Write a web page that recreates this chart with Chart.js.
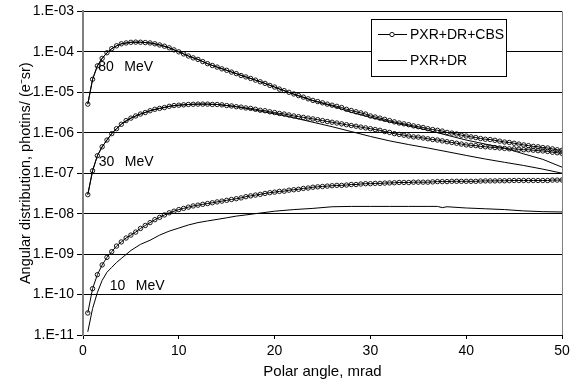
<!DOCTYPE html>
<html>
<head>
<meta charset="utf-8">
<script src="https://cdn.jsdelivr.net/npm/chart.js@4.4.1/dist/chart.umd.min.js"></script>
<style>
  html, body { margin: 0; padding: 0; background: #ffffff; }
  #wrap { width: 587px; height: 384px; position: relative; }
</style>
</head>
<body>
<div id="wrap"><canvas id="c" width="587" height="384"></canvas></div>
<script>
// ---------- data ----------
const cbsAngles = [0.5,1,1.5,2,2.5,3,3.5,4,4.5,5,5.5,6,6.5,7,7.5,8,8.5,9,9.5,10,
  10.5,11,11.5,12,12.5,13,13.5,14,14.5,15,15.5,16,16.5,17,17.5,18,18.5,19,19.5,20,
  20.5,21,21.5,22,22.5,23,23.5,24,24.5,25,25.5,26,26.5,27,27.5,28,28.5,29,29.5,30,
  30.5,31,31.5,32,32.5,33,33.5,34,34.5,35,35.5,36,36.5,37,37.5,38,38.5,39,39.5,40,
  40.5,41,41.5,42,42.5,43,43.5,44,44.5,45,45.5,46,46.5,47,47.5,48,48.5,49,49.5,50];

const cbs80 = [5.1e-6,2.1e-5,4.5e-5,6.9e-5,9.5e-5,1.2e-4,1.41e-4,1.58e-4,1.66e-4,1.72e-4,
  1.74e-4,1.73e-4,1.70e-4,1.66e-4,1.58e-4,1.48e-4,1.38e-4,1.26e-4,1.12e-4,1.0e-4,
  8.9e-5,7.9e-5,7.1e-5,6.5e-5,5.75e-5,5.1e-5,4.6e-5,4.2e-5,3.8e-5,3.5e-5,
  3.16e-5,2.9e-5,2.6e-5,2.4e-5,2.2e-5,2.0e-5,1.82e-5,1.66e-5,1.48e-5,1.35e-5,
  1.2e-5,1.1e-5,1.0e-5,9.1e-6,8.3e-6,7.6e-6,6.9e-6,6.3e-6,5.9e-6,5.5e-6,
  5.1e-6,4.8e-6,4.5e-6,4.2e-6,3.8e-6,3.55e-6,3.3e-6,3.1e-6,2.9e-6,2.6e-6,
  2.45e-6,2.3e-6,2.14e-6,2.0e-6,1.86e-6,1.74e-6,1.66e-6,1.58e-6,1.48e-6,1.41e-6,
  1.35e-6,1.26e-6,1.2e-6,1.15e-6,1.1e-6,1.02e-6,9.8e-7,9.3e-7,8.7e-7,8.3e-7,
  7.9e-7,7.6e-7,7.2e-7,6.9e-7,6.8e-7,6.5e-7,6.2e-7,5.9e-7,5.75e-7,5.5e-7,
  5.25e-7,5.0e-7,4.8e-7,4.6e-7,4.5e-7,4.3e-7,4.2e-7,4.0e-7,3.8e-7,3.7e-7];

const cbs30 = [2.95e-8,1.15e-7,2.7e-7,4.5e-7,6.6e-7,9.5e-7,1.26e-6,1.62e-6,2.0e-6,2.3e-6,
  2.6e-6,2.9e-6,3.16e-6,3.5e-6,3.8e-6,4.0e-6,4.2e-6,4.5e-6,4.7e-6,4.8e-6,
  4.9e-6,5.0e-6,5.05e-6,5.1e-6,5.1e-6,5.1e-6,5.0e-6,5.0e-6,4.9e-6,4.7e-6,
  4.6e-6,4.4e-6,4.3e-6,4.1e-6,4.0e-6,3.8e-6,3.6e-6,3.5e-6,3.3e-6,3.16e-6,
  3.0e-6,2.9e-6,2.75e-6,2.6e-6,2.5e-6,2.4e-6,2.3e-6,2.2e-6,2.1e-6,2.0e-6,
  1.9e-6,1.82e-6,1.74e-6,1.66e-6,1.58e-6,1.51e-6,1.45e-6,1.38e-6,1.32e-6,1.26e-6,
  1.2e-6,1.15e-6,1.07e-6,1.02e-6,9.5e-7,9.1e-7,8.7e-7,8.3e-7,7.9e-7,7.8e-7,
  7.4e-7,7.1e-7,6.8e-7,6.6e-7,6.3e-7,6.0e-7,5.75e-7,5.5e-7,5.25e-7,5.0e-7,
  4.9e-7,4.8e-7,4.6e-7,4.5e-7,4.4e-7,4.3e-7,4.2e-7,4.1e-7,4.0e-7,4.0e-7,
  3.9e-7,3.8e-7,3.8e-7,3.7e-7,3.6e-7,3.55e-7,3.45e-7,3.3e-7,3.2e-7,3.1e-7];

const cbs10 = [3.5e-11,1.4e-10,3.1e-10,5.4e-10,8.3e-10,1.15e-9,1.58e-9,2.0e-9,2.5e-9,2.95e-9,
  3.5e-9,4.3e-9,5.1e-9,6.0e-9,7.1e-9,8.1e-9,9.3e-9,1.05e-8,1.15e-8,1.26e-8,
  1.35e-8,1.45e-8,1.55e-8,1.62e-8,1.7e-8,1.78e-8,1.86e-8,1.95e-8,2.04e-8,2.14e-8,
  2.24e-8,2.34e-8,2.45e-8,2.63e-8,2.75e-8,2.88e-8,3.0e-8,3.16e-8,3.3e-8,3.4e-8,
  3.55e-8,3.6e-8,3.8e-8,3.9e-8,4.0e-8,4.2e-8,4.3e-8,4.5e-8,4.6e-8,4.7e-8,
  4.8e-8,4.9e-8,5.0e-8,5.0e-8,5.1e-8,5.25e-8,5.25e-8,5.4e-8,5.5e-8,5.5e-8,
  5.6e-8,5.6e-8,5.7e-8,5.75e-8,5.8e-8,5.9e-8,5.9e-8,5.9e-8,6.0e-8,6.0e-8,
  6.0e-8,6.0e-8,6.1e-8,6.2e-8,6.2e-8,6.2e-8,6.3e-8,6.3e-8,6.3e-8,6.3e-8,
  6.3e-8,6.3e-8,6.4e-8,6.45e-8,6.45e-8,6.45e-8,6.5e-8,6.5e-8,6.55e-8,6.6e-8,
  6.6e-8,6.6e-8,6.6e-8,6.6e-8,6.6e-8,6.6e-8,6.6e-8,6.75e-8,6.75e-8,6.8e-8];

const lineAngles = [0.5,1,1.5,2,2.5,3,3.5,4,5,6,7,8,9,10,11,12,13,14,15,16,17,18,19,20,
  22,24,26,28,30,32,34,36,38,40,42,44,46,48,50];

const line80 = [5.1e-6,2.1e-5,4.5e-5,6.9e-5,9.5e-5,1.2e-4,1.41e-4,1.58e-4,
  1.72e-4,1.73e-4,1.66e-4,1.48e-4,1.26e-4,1.0e-4,7.9e-5,6.5e-5,5.1e-5,4.2e-5,3.5e-5,2.9e-5,2.4e-5,2.0e-5,1.66e-5,1.35e-5,
  8.9e-6,6.2e-6,4.6e-6,3.2e-6,2.4e-6,1.86e-6,1.48e-6,1.15e-6,8.7e-7,6.6e-7,5.25e-7,4.2e-7,3.0e-7,2.2e-7,1.41e-7];

const line30 = [2.95e-8,1.15e-7,2.7e-7,4.5e-7,6.6e-7,9.5e-7,1.26e-6,1.62e-6,
  2.3e-6,2.9e-6,3.5e-6,4.0e-6,4.5e-6,4.8e-6,5.0e-6,5.1e-6,5.1e-6,5.0e-6,4.7e-6,4.4e-6,4.0e-6,3.6e-6,3.24e-6,2.95e-6,
  2.34e-6,1.82e-6,1.41e-6,1.07e-6,8.1e-7,6.3e-7,5.1e-7,4.2e-7,3.4e-7,2.75e-7,2.24e-7,1.86e-7,1.55e-7,1.26e-7,1.0e-7];

const line10Angles = [0.5,1,1.5,2,2.5,3,3.5,4,5,6,7,8,9,10,11,12,13,14,15,16,17,18,19,20,
  22,24,26,28,30,32,34,36,37,37.5,38,40,42,44,46,48,50];

const line10 = [1.2e-11,4.5e-11,1.12e-10,2.24e-10,3.55e-10,4.7e-10,6.2e-10,7.8e-10,
  1.23e-9,1.74e-9,2.2e-9,2.95e-9,3.7e-9,4.4e-9,5.25e-9,6.0e-9,6.6e-9,7.2e-9,7.9e-9,8.7e-9,9.3e-9,1.0e-8,1.07e-8,1.15e-8,
  1.26e-8,1.35e-8,1.48e-8,1.51e-8,1.51e-8,1.51e-8,1.51e-8,1.51e-8,1.51e-8,1.41e-8,1.48e-8,1.38e-8,1.32e-8,1.26e-8,1.17e-8,1.12e-8,1.1e-8];

const yTickValues = [1e-11,1e-10,1e-9,1e-8,1e-7,1e-6,1e-5,1e-4,1e-3];
const yTickLabels = ['1.E-11','1.E-10','1.E-09','1.E-08','1.E-07','1.E-06','1.E-05','1.E-04','1.E-03'];
const xTickValues = [0,10,20,30,40,50];
const xTickLabels = ['0','10','20','30','40','50'];

const seriesNames = ['PXR+DR+CBS','PXR+DR'];
const energyNumbers = ['80','30','10'];
const energyUnit = 'MeV';
const energyLabelX = [1.6, 1.65, 2.8];
const energyLabelY = [4.1e-5, 1.93e-7, 1.6e-10];

const xTitle = 'Polar angle, mrad';
const yTitle = 'Angular distribution, photins/ (e\u207Bsr)';

// ---------- helpers ----------
const FONT = "'Liberation Sans', Arial, sans-serif";
function pts(xs, ys) { return xs.map((x, i) => ({x: x, y: ys[i]})); }

const cbsStyle = {
  showLine: true, borderColor: '#000', borderWidth: 1, tension: 0,
  pointRadius: 2.2, pointBorderWidth: 0.9, pointBorderColor: '#000',
  pointBackgroundColor: 'rgba(0,0,0,0)', pointStyle: 'circle'
};
const lineStyle = {
  showLine: true, borderColor: '#000', borderWidth: 1, tension: 0, pointRadius: 0
};

const extras = {
  id: 'extras',
  afterDatasetsDraw(chart) {
    const ctx = chart.ctx, xs = chart.scales.x, ys = chart.scales.y, ca = chart.chartArea;
    ctx.save();
    // right frame line
    ctx.strokeStyle = '#808080';
    ctx.lineWidth = 1;
    ctx.beginPath();
    ctx.moveTo(Math.round(ca.right) + 0.5, ca.top);
    ctx.lineTo(Math.round(ca.right) + 0.5, ca.bottom);
    ctx.stroke();
    // energy labels
    ctx.fillStyle = '#000';
    ctx.font = '14px ' + FONT;
    ctx.textBaseline = 'middle';
    ctx.textAlign = 'left';
    energyNumbers.forEach((n, i) => {
      const px = xs.getPixelForValue(energyLabelX[i]);
      const py = ys.getPixelForValue(energyLabelY[i]);
      ctx.fillText(n, px, py);
      ctx.fillText(energyUnit, px + 26, py);
    });
    // legend
    const L = 371.5, T = 19.5, R = 506.5, B = 76.5;
    ctx.fillStyle = '#fff';
    ctx.fillRect(L, T, R - L, B - T);
    ctx.strokeStyle = '#000';
    ctx.lineWidth = 1;
    ctx.strokeRect(L, T, R - L, B - T);
    ctx.beginPath();
    ctx.moveTo(378, 34.5); ctx.lineTo(407, 34.5);
    ctx.moveTo(378, 60.5); ctx.lineTo(407, 60.5);
    ctx.stroke();
    ctx.beginPath();
    ctx.arc(392, 34.5, 2.2, 0, Math.PI * 2);
    ctx.fillStyle = '#fff';
    ctx.fill();
    ctx.lineWidth = 0.9;
    ctx.stroke();
    ctx.fillStyle = '#000';
    ctx.font = '14px ' + FONT;
    ctx.fillText(seriesNames[0], 410, 35);
    ctx.fillText(seriesNames[1], 410, 61);
    ctx.restore();
  }
};

new Chart(document.getElementById('c'), {
  type: 'scatter',
  data: {
    datasets: [
      Object.assign({label: seriesNames[1] + ' 80', data: pts(lineAngles, line80)}, lineStyle),
      Object.assign({label: seriesNames[1] + ' 30', data: pts(lineAngles, line30)}, lineStyle),
      Object.assign({label: seriesNames[1] + ' 10', data: pts(line10Angles, line10)}, lineStyle),
      Object.assign({label: seriesNames[0] + ' 80', data: pts(cbsAngles, cbs80)}, cbsStyle),
      Object.assign({label: seriesNames[0] + ' 30', data: pts(cbsAngles, cbs30)}, cbsStyle),
      Object.assign({label: seriesNames[0] + ' 10', data: pts(cbsAngles, cbs10)}, cbsStyle)
    ]
  },
  options: {
    responsive: false,
    animation: false,
    devicePixelRatio: 1,
    layout: { padding: { top: 8, right: 25, left: 0, bottom: 0 } },
    plugins: { legend: { display: false }, tooltip: { enabled: false } },
    scales: {
      x: {
        type: 'linear', min: 0, max: 50,
        afterBuildTicks(s) { s.ticks = xTickValues.map(v => ({value: v})); },
        afterFit(s) { s.height = 49; },
        ticks: {
          autoSkip: false, maxRotation: 0, color: '#000', padding: 4,
          font: { family: FONT, size: 14 },
          callback: (v, i) => xTickLabels[i]
        },
        grid: { drawOnChartArea: false, drawTicks: true, tickLength: 4, color: '#000', lineWidth: 1 },
        border: { display: true, color: '#000', width: 1 },
        title: { display: true, text: xTitle, color: '#000', font: { family: FONT, size: 15 }, padding: { top: 0, bottom: 3 } }
      },
      y: {
        type: 'logarithmic', min: 1e-11, max: 1e-3,
        afterBuildTicks(s) { s.ticks = yTickValues.map(v => ({value: v, major: true})); },
        afterFit(s) { s.width = 83; },
        ticks: {
          autoSkip: false, color: '#000', padding: 3,
          font: { family: FONT, size: 14 },
          callback: (v, i) => yTickLabels[i]
        },
        grid: { drawOnChartArea: true, drawTicks: true, tickLength: 6, color: '#000', lineWidth: 1 },
        border: { display: true, color: '#808080', width: 2 },
        title: { display: true, text: yTitle, color: '#000', font: { family: FONT, size: 14.5 }, padding: { top: 17, bottom: 0 } }
      }
    }
  },
  plugins: [extras]
});
</script>
</body>
</html>
